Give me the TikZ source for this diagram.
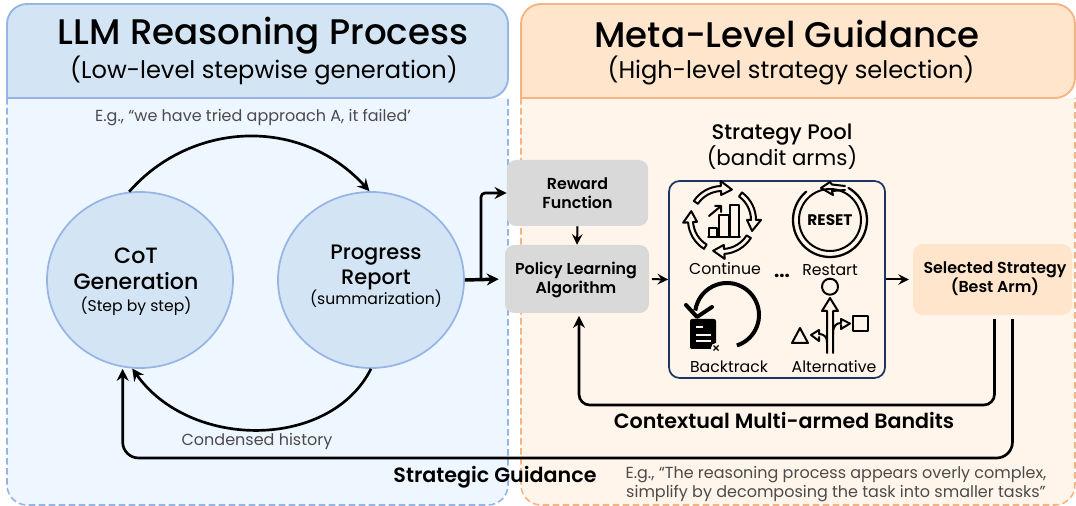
\documentclass[tikz,border=0pt]{standalone}
\usepackage{fontspec}
\setmainfont{Poppins}
\newfontfamily\medfont{Poppins Medium}
\newfontfamily\semifont{Poppins SemiBold}
\usepackage{tikz}
\usetikzlibrary{arrows.meta,shapes.geometric,positioning}
\definecolor{leftedge}{RGB}{150,180,230}
\definecolor{lefthead}{RGB}{211,229,244}
\definecolor{leftbody}{RGB}{238,246,255}
\definecolor{rightedge}{RGB}{248,180,128}
\definecolor{righthead}{RGB}{254,229,204}
\definecolor{rightbody}{RGB}{255,245,234}
\definecolor{greybox}{RGB}{217,217,217}
\definecolor{pooledge}{RGB}{30,52,100}
\definecolor{quotegrey}{RGB}{75,75,75}
\tikzstyle{process} = [ellipse, minimum width=139.5pt, minimum height=132pt, inner sep=0pt, draw=leftedge, fill=lefthead, line width=1.3pt]
\tikzstyle{circletext} = [align=center, inner sep=0pt]
\tikzstyle{boxgrey} = [rectangle, rounded corners=7pt, fill=greybox, align=center, inner sep=0pt, font=\semifont\fontsize{11.9}{14.3}\selectfont]
\tikzstyle{caption} = [align=center, inner sep=0pt, font=\fontsize{11.8}{15}\selectfont]
\tikzstyle{quote} = [caption, text=quotegrey, font=\fontsize{12}{14.5}\selectfont]
\tikzstyle{strong} = [align=center, inner sep=0pt, font=\semifont\fontsize{15.5}{18}\selectfont]
\tikzstyle{panel} = [line width=1.2pt, dash pattern=on 5pt off 2.5pt, rounded corners=15pt]
\tikzstyle{panelhead} = [line width=1.4pt, rounded corners=15pt]
\tikzstyle{arrow} = [line width=2pt,-{Stealth[length=9pt,width=9pt,inset=3pt]},color=black]
\tikzstyle{arrowthin} = [line width=1.5pt,-{Stealth[length=8pt,width=8pt,inset=3pt]},color=black]
\tikzstyle{icon} = [line width=1.5pt, line join=round, line cap=round, color=black]
\begin{document}
\begin{tikzpicture}[x=0.75pt,y=-0.75pt]
\useasboundingbox (0,0) rectangle (1076,506);

% Panels
\draw[panel, leftedge, fill=leftbody] (7,98) -- (7,505) -- (508,505) -- (508,98);
\draw[panelhead, leftedge, fill=lefthead] (7,98) -- (7,4) -- (508,4) -- (508,98) [sharp corners] -- cycle;
\draw[panel, rightedge, fill=rightbody] (521,98) -- (521,505) -- (1075,505) -- (1075,98);
\draw[panelhead, rightedge, fill=righthead] (521,98) -- (521,4) -- (1075,4) -- (1075,98) [sharp corners] -- cycle;

% Titles
\node (lefttitle) [inner sep=0pt, font=\medfont\fontsize{26.7}{32}\selectfont] at (263,36) {LLM Reasoning Process};
\node (leftsub) [inner sep=0pt, font=\fontsize{18.1}{22}\selectfont] at (264,70) {(Low-level stepwise generation)};
\node (righttitle) [inner sep=0pt, font=\medfont\fontsize{26.7}{32}\selectfont] at (787,34) {Meta-Level Guidance};
\node (rightsub) [inner sep=0pt, font=\fontsize{18.1}{22}\selectfont] at (791,70) {(High-level strategy selection)};

% Circles
\node (cot) [process] at (140,280) {};
\node (cottext) [circletext, font=\medfont\fontsize{16.6}{19.5}\selectfont] at (136,282) {CoT\\Generation\\[-3pt]{\normalfont\fontsize{11.7}{14}\selectfont (Step by step)}};
\node (progress) [process] at (371,280) {};
\node (progresstext) [circletext, font=\medfont\fontsize{15.7}{18.8}\selectfont] at (376,276) {Progress\\Report\\[-3.5pt]{\normalfont\fontsize{11.7}{14}\selectfont (summarization)}};

% Boxes
\node (reward) [boxgrey, minimum width=106pt, minimum height=49.5pt] at (577.5,193) {Reward\\Function};
\node (policy) [boxgrey, minimum width=108pt, minimum height=51pt] at (577,279) {};
\node (policytext) [circletext, font=\semifont\fontsize{11.9}{14.3}\selectfont] at (576,280) {Policy Learning\\Algorithm};
\node (pool) [rectangle, rounded corners=8pt, draw=pooledge, line width=1.3pt, minimum width=162pt, minimum height=147.75pt] at (777,279.5) {};
\node (selected) [boxgrey, fill=righthead, minimum width=119pt, minimum height=53pt] at (992.5,279.5) {};
\node (selectedtext) [circletext, font=\semifont\fontsize{11.9}{14.3}\selectfont] at (995,279) {Selected Strategy\\(Best Arm)};

% Text labels
\node (tried) [quote] at (253,117.5) {E.g., “we have tried approach A, it failed’};
\node (history) [quote] at (257,441) {Condensed history};
\node (poolname) [caption, font=\medfont\fontsize{15.8}{18}\selectfont] at (782,135) {Strategy Pool};
\node (arms) [caption, font=\fontsize{16}{18}\selectfont] at (782,158) {(bandit arms)};
\node (bandits) [strong] at (784,420) {Contextual Multi-armed Bandits};
\node (guidance) [strong] at (495,477) {Strategic Guidance};
\node (simplify) [quote] at (836,484) {E.g., “The reasoning process appears overly complex,\\simplify by decomposing the task into smaller tasks”};

% Pool labels
\node (continue) [caption] at (725,269) {Continue};
\node (restart) [caption] at (830,270) {Restart};
\node (dots) [caption, font=\bfseries\fontsize{14}{14}\selectfont] at (782,276) {...};
\node (backtrack) [caption] at (729,367) {Backtrack};
\node (alternative) [caption] at (834,367) {Alternative};

% Icon: continue
\begin{scope}[shift={(722,220)}, y=0.75pt]
\foreach \a in {0,-92,-178,-268} {
  \draw[icon, rotate=\a, fill=rightbody] (146:29) arc (146:92:29) -- (92:25) -- (72:32) -- (92:39) -- (92:34) arc (92:146:34) -- cycle;
}
\draw[icon] (-14,-17) -- (18,-17);
\draw[icon] (-13,-17) rectangle (-5,-8);
\draw[icon] (-3,-17) rectangle (7,5);
\draw[icon] (8,-17) rectangle (17,15);
\draw[icon] (-13,4) -- (-1,14) (-7,14) -- (-1,14) -- (-1,8);
\end{scope}

% Icon: restart
\begin{scope}[shift={(830,220)}, y=0.75pt]
\draw[icon] (0,0) circle (31);
\draw[icon, line width=1.7pt] (130:37) arc (130:420:37);
\draw[icon] (15,34) -- (2,35.5) -- (0,38) -- (-9,32) -- (3,25) -- (2,29) -- (15,30);
\node (reset) [inner sep=0pt, font=\bfseries\fontsize{11.5}{14}\selectfont] at (0,0) {RESET};
\end{scope}

% Icon: backtrack
\begin{scope}[shift={(727,315)}, y=0.75pt]
\draw[icon, line width=3pt, line cap=butt] (-72:32) arc (-72:172:32);
\draw[icon, line width=3pt] (-41,10) -- (-30,-2) -- (-15,8);
\fill[black, rounded corners=1.5pt] (-37,-4) rectangle (-11,-34);
\draw[rightbody, line width=1pt] (-31,-12) -- (-24,-12) (-31,-20) -- (-16,-20) (-31,-26) -- (-16,-26);
\fill[rightbody] (-11,-33) circle (5);
\draw[black, line width=1pt] (-13.5,-30.5) -- (-8.5,-35.5) (-13.5,-35.5) -- (-8.5,-30.5);
\end{scope}

% Icon: alternative
\begin{scope}[shift={(830,320)}, y=0.75pt]
\draw[icon] (0,33.3) circle (8);
\draw[icon] (-3,-33) -- (-3,9) -- (-8,9) -- (0,22) -- (8,9) -- (3,9) -- (3,-33);
\draw[icon, fill=rightbody] (3,-14) .. controls (3,-6) and (6,-3) .. (11,-3) -- (11,1) -- (20,-3.5) -- (11,-9) -- (11,-5);
\draw[icon, fill=rightbody] (-3,-22) .. controls (-3,-17) and (-6,-14) .. (-11,-14) -- (-11,-10) -- (-19,-15) -- (-11,-21) -- (-11,-17);
\draw[icon] (23,-11) rectangle (38,4);
\draw[icon] (-38,-23) -- (-22,-23) -- (-30,-8) -- cycle;
\end{scope}

% Arrows
\coordinate (topbranch) at (481,280);
\draw[arrow] (cot.97) .. controls (190,122) and (300,115) .. (progress.91);
\draw[arrow] (progress.-90) .. controls (330,450) and (190,450) .. (cot.-95);
\draw[arrow, line width=2.6pt, shorten >=4.5pt] (progress.east) -- (policy.west);
\draw[arrow, rounded corners=3pt] (topbranch) |- (reward.west);
\draw[arrowthin] (reward.south) -- (policy.north);
\draw[arrowthin, shorten <=2pt] (policy.east) -- (pool.west);
\draw[arrowthin, shorten >=3pt] (pool.east) -- (selected.west);
\coordinate (banditlow) at (780,405);
\coordinate (guidelow) at (600,458);
\draw[arrow, rounded corners=8pt, shorten <=3pt, shorten >=2pt] ([xshift=1.5pt]selected.south) |- (banditlow) -| ([xshift=1.5pt]policy.south);
\draw[arrow, rounded corners=12pt, shorten <=3pt] ([xshift=15pt]selected.south) |- (guidelow) -| ([xshift=-13pt]cot.south);
\end{tikzpicture}
\end{document}
